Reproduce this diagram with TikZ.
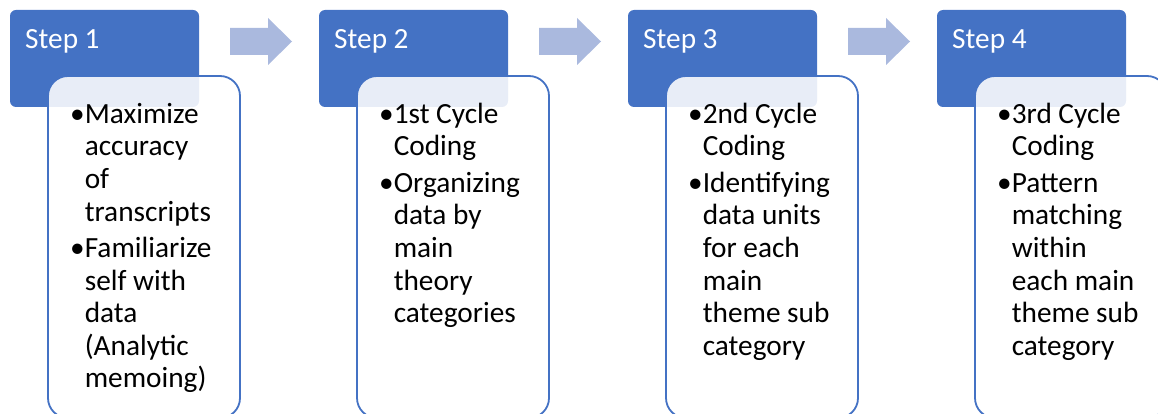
\documentclass[tikz,border=0pt]{standalone}
\usepackage{fontspec}
\setmainfont{Carlito}
\definecolor{stepblue}{RGB}{68,114,196}
\definecolor{arrowblue}{RGB}{170,185,222}
% indent for wrapped lines of a bullet item
\newcommand\contindent{\hphantom{•}}
\newcommand\firststrut{\rule{0pt}{22pt}}
\begin{document}
\begin{tikzpicture}[x=1pt,y=-1pt,
  header/.style={fill=stepblue, draw=none, rounded corners=6pt, anchor=north west,
    minimum width=189pt, minimum height=97pt, inner sep=0pt, outer sep=0pt},
  detail/.style={draw=stepblue, line width=1.8pt, fill=white, fill opacity=0.88,
    rounded corners=20pt, anchor=north west, minimum width=192pt, minimum height=342pt,
    inner sep=0pt, outer sep=0pt},
  steplabel/.style={anchor=base west, inner sep=0pt, text=white,
    font=\fontsize{29.3}{35}\selectfont},
  bullets/.style={anchor=north west, inner sep=0pt, align=left, text=black,
    font=\fontsize{29.3}{32.6}\selectfont},
  flow/.style={fill=arrowblue}]
\useasboundingbox (0,0) rectangle (1158,414);
\clip (0,0) rectangle (1158,414);

% step headers
\node[header] (h1) at (10,10) {};
\node[header] (h2) at (319,10) {};
\node[header] (h3) at (628,10) {};
\node[header] (h4) at (937,10) {};

\node[steplabel] (s1) at (25,49) {Step 1};
\node[steplabel] (s2) at (334,49) {Step 2};
\node[steplabel] (s3) at (643,49) {Step 3};
\node[steplabel] (s4) at (952,49) {Step 4};

% detail panels overlapping the headers
\node[detail] (d1) at (48,76) {};
\node[detail] (d2) at (357,76) {};
\node[detail] (d3) at (666,76) {};
\node[detail] (d4) at (975,76) {};

% block arrows between the steps
\foreach \dx in {0,309,618} {
  \fill[flow] (230+\dx,28) -- (268+\dx,28) -- (268+\dx,18) -- (292+\dx,41.5)
    -- (268+\dx,65) -- (268+\dx,55) -- (230+\dx,55) -- cycle;
}

% bullet texts
\node[bullets] (t1) at (70,101) {\firststrut•Maximize\\
  \contindent accuracy\\
  \contindent of\\
  \contindent transcripts\\[3.8pt]
  •Familiarize\\
  \contindent self with\\
  \contindent data\\
  \contindent (Analytic\\
  \contindent memoing)};

\node[bullets] (t2) at (379,101) {\firststrut•1st Cycle\\
  \contindent Coding\\[3.8pt]
  •Organizing\\
  \contindent data by\\
  \contindent main\\
  \contindent theory\\
  \contindent categories};

\node[bullets] (t3) at (688,101) {\firststrut•2nd Cycle\\
  \contindent Coding\\[3.8pt]
  •Identifying\\
  \contindent data units\\
  \contindent for each\\
  \contindent main\\
  \contindent theme sub\\
  \contindent category};

\node[bullets] (t4) at (997,101) {\firststrut•3rd Cycle\\
  \contindent Coding\\[3.8pt]
  •Pattern\\
  \contindent matching\\
  \contindent within\\
  \contindent each main\\
  \contindent theme sub\\
  \contindent category};
\end{tikzpicture}
\end{document}
